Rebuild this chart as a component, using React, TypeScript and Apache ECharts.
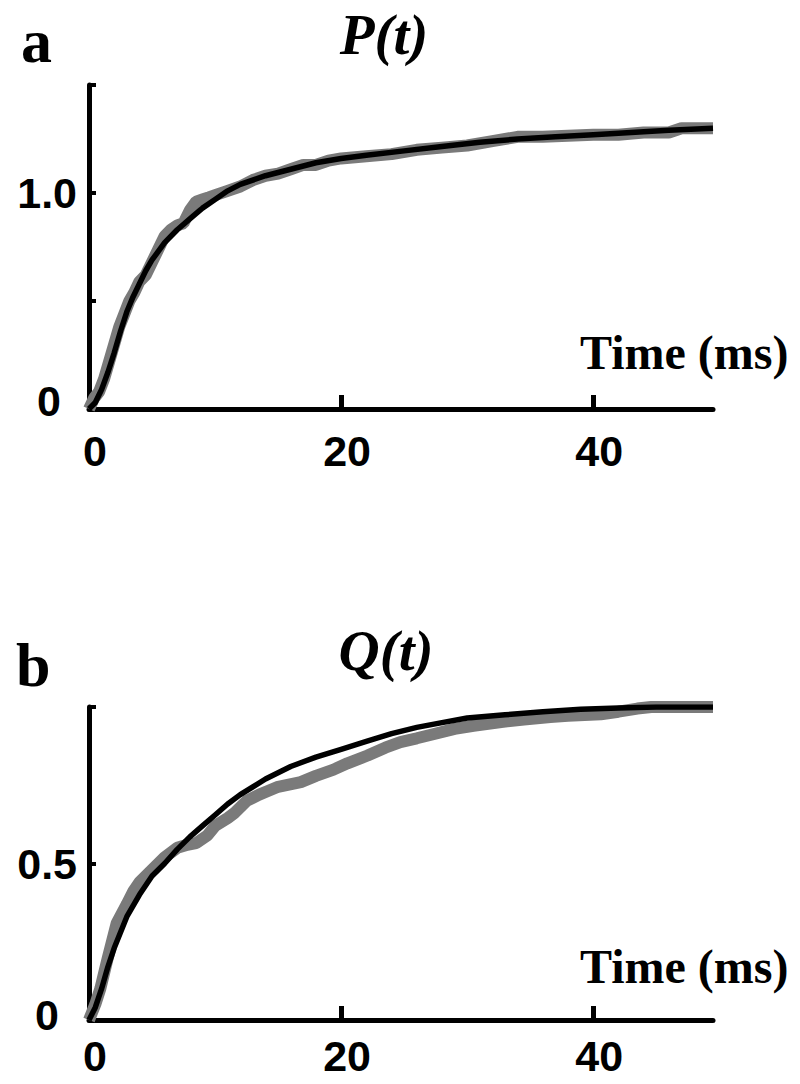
import React, { useEffect, useRef } from "react";
import * as echarts from "echarts";

// Panel a: P(t)
const fitTimeA = [0, 0.5, 1, 1.5, 2, 2.5, 3, 3.5, 4, 4.5, 5, 6, 7, 8, 9, 10, 11, 12, 14, 16, 18, 20, 22, 25, 28, 31, 34, 37, 40, 43, 46, 49.5];
const fitValA = [0, 0.03, 0.09, 0.17, 0.26, 0.36, 0.45, 0.52, 0.58, 0.64, 0.69, 0.77, 0.83, 0.88, 0.93, 0.97, 1.01, 1.04, 1.08, 1.11, 1.14, 1.16, 1.175, 1.195, 1.215, 1.235, 1.25, 1.26, 1.27, 1.28, 1.29, 1.3];
const empTimeA = [0, 0.4, 0.8, 1.2, 1.6, 2, 2.4, 2.8, 3.2, 3.6, 4, 4.5, 5, 5.5, 6, 6.5, 7, 7.5, 8, 8.5, 9, 9.5, 10, 11, 12, 13, 14, 15, 16, 17, 18, 19, 20, 22, 24, 26, 28, 30, 32, 34, 36, 38, 40, 42, 44, 46, 47, 49.5];
const empValA = [0, 0.05, 0.08, 0.14, 0.22, 0.3, 0.38, 0.44, 0.5, 0.54, 0.59, 0.62, 0.68, 0.74, 0.8, 0.83, 0.85, 0.86, 0.92, 0.96, 0.97, 0.98, 0.99, 1.01, 1.03, 1.06, 1.08, 1.09, 1.11, 1.13, 1.13, 1.15, 1.16, 1.17, 1.18, 1.2, 1.21, 1.22, 1.24, 1.26, 1.26, 1.265, 1.27, 1.27, 1.28, 1.28, 1.3, 1.3];

// Panel b: Q(t)
const fitTimeB = [0, 0.5, 1, 1.5, 2, 3, 4, 5, 6, 7, 8, 9, 10, 11, 12, 13, 14, 16, 18, 20, 22, 24, 26, 28, 30, 33, 36, 39, 42, 45, 49.5];
const fitValB = [0, 0.04, 0.1, 0.17, 0.23, 0.33, 0.4, 0.46, 0.5, 0.545, 0.585, 0.62, 0.655, 0.69, 0.72, 0.745, 0.77, 0.81, 0.84, 0.865, 0.89, 0.915, 0.935, 0.95, 0.965, 0.975, 0.985, 0.993, 0.997, 1.0, 1.0];
const empTimeB = [0, 0.5, 0.9, 1.5, 2.2, 3, 3.5, 4, 5, 6, 7, 7.8, 8.5, 9.4, 10, 11, 11.5, 12.5, 13.5, 14.1, 15, 16.8, 18, 19.4, 20.5, 22.1, 23.5, 24.7, 26, 27.3, 29, 30.5, 32.7, 34.5, 36.6, 38, 40.6, 42, 43.5, 44.6, 49.5];
const empValB = [0, 0.05, 0.1, 0.2, 0.31, 0.37, 0.41, 0.44, 0.48, 0.52, 0.55, 0.56, 0.565, 0.59, 0.62, 0.645, 0.66, 0.7, 0.72, 0.73, 0.745, 0.76, 0.78, 0.8, 0.82, 0.845, 0.87, 0.888, 0.9, 0.913, 0.93, 0.94, 0.952, 0.96, 0.968, 0.972, 0.977, 0.985, 0.995, 1.0, 1.0];

const xTickValues = [20, 40];
const xLabelValues = [0, 20, 40];

const pairs = (xs: number[], ys: number[]) => xs.map((x, i) => [x, ys[i]]);

const SANS = "'Liberation Sans', Arial, sans-serif";
const SERIF = "'Liberation Serif', 'Times New Roman', serif";

export default function App() {
  const ref = useRef<HTMLDivElement>(null);
  useEffect(() => {
    if (!ref.current) return;
    const chart = echarts.init(ref.current, null, { renderer: "svg" });
    const axisLine = { show: true, lineStyle: { color: "#000", width: 5 } };
    const xAxisCommon = (gi: number, margin: number) => ({
      type: "value",
      gridIndex: gi,
      min: 0,
      max: 49.5,
      interval: 20,
      axisLine,
      axisTick: { show: true, inside: true, length: 14, customValues: xTickValues, lineStyle: { color: "#000", width: 5 } },
      axisLabel: {
        show: true,
        customValues: xLabelValues,
        margin,
        fontSize: 43,
        fontWeight: "bold",
        fontFamily: SANS,
        color: "#000",
        padding: [0, 0, 0, 12],
      },
      splitLine: { show: false },
    });
    const yAxisCommon = (gi: number, max: number, labelVal: number, labelTxt: string, zeroPad: number[]) => ({
      type: "value",
      gridIndex: gi,
      min: 0,
      max,
      interval: 0.5,
      axisLine,
      axisTick: { show: true, inside: true, length: 7, lineStyle: { color: "#000", width: 4 } },
      axisLabel: {
        show: true,
        margin: 12,
        fontSize: 43,
        fontWeight: "bold",
        fontFamily: SANS,
        color: "#000",
        formatter: (v: number) => {
          if (Math.abs(v) < 1e-9) return "{z|0}";
          if (Math.abs(v - labelVal) < 1e-9) return labelTxt;
          return "";
        },
        rich: {
          z: { fontSize: 43, fontWeight: "bold", fontFamily: SANS, color: "#000", padding: zeroPad },
        },
      },
      splitLine: { show: false },
    });
    chart.setOption({
      animation: false,
      backgroundColor: "#fff",
      grid: [
        { left: 89, right: 87, top: 85, bottom: 675, outerBoundsMode: "none", containLabel: false },
        { left: 89, right: 87, top: 707, bottom: 64, outerBoundsMode: "none", containLabel: false },
      ],
      xAxis: [xAxisCommon(0, 20), xAxisCommon(1, 14)],
      yAxis: [
        yAxisCommon(0, 1.5, 1.0, "1.0", [0, 16, 16, 0]),
        yAxisCommon(1, 1.0, 0.5, "0.5", [0, 18, 10, 0]),
      ],
      series: [
        { type: "line", xAxisIndex: 0, yAxisIndex: 0, data: pairs(empTimeA, empValA), showSymbol: false, lineStyle: { color: "#7a7a7a", width: 12 }, z: 2 },
        { type: "line", xAxisIndex: 0, yAxisIndex: 0, data: pairs(fitTimeA, fitValA), showSymbol: false, lineStyle: { color: "#000", width: 5.5 }, z: 3 },
        { type: "line", xAxisIndex: 1, yAxisIndex: 1, data: pairs(empTimeB, empValB), showSymbol: false, lineStyle: { color: "#7a7a7a", width: 12 }, z: 2 },
        { type: "line", xAxisIndex: 1, yAxisIndex: 1, data: pairs(fitTimeB, fitValB), showSymbol: false, lineStyle: { color: "#000", width: 5.5 }, z: 3 },
      ],
      graphic: [
        { type: "text", x: 21, y: 41, style: { text: "a", fontSize: 62, fontWeight: "bold", fontFamily: SERIF, fill: "#000", align: "left", verticalAlign: "middle" } },
        { type: "text", x: 16, y: 665, style: { text: "b", fontSize: 62, fontWeight: "bold", fontFamily: SERIF, fill: "#000", align: "left", verticalAlign: "middle" } },
        { type: "text", x: 384, y: 34, style: { text: "P(t)", fontSize: 57, fontWeight: "bold", fontStyle: "italic", fontFamily: SERIF, fill: "#000", align: "center", verticalAlign: "middle" } },
        { type: "text", x: 386, y: 650, style: { text: "Q(t)", fontSize: 57, fontWeight: "bold", fontStyle: "italic", fontFamily: SERIF, fill: "#000", align: "center", verticalAlign: "middle" } },
        { type: "text", x: 580, y: 352, style: { text: "Time (ms)", fontSize: 48, fontWeight: "bold", fontFamily: SERIF, fill: "#000", align: "left", verticalAlign: "middle" } },
        { type: "text", x: 580, y: 966, style: { text: "Time (ms)", fontSize: 48, fontWeight: "bold", fontFamily: SERIF, fill: "#000", align: "left", verticalAlign: "middle" } },
      ],
    });
    return () => chart.dispose();
  }, []);
  return <div ref={ref} style={{ position: "absolute", left: 0, top: 0, width: 800, height: 1084 }} />;
}
